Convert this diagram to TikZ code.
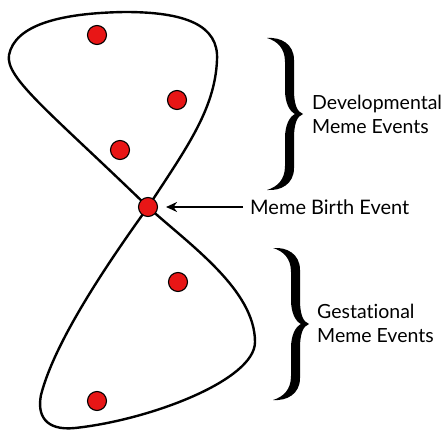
\documentclass[tikz,border=0pt]{standalone}
\usepackage{fontspec}
\setmainfont{Lato}[Ligatures=NoCommon]
\usetikzlibrary{arrows.meta}
\definecolor{dotred}{RGB}{232,22,22}
\begin{document}
\begin{tikzpicture}[x=1pt,y=-1pt,
  lobe/.style={line width=2.4pt},
  dot/.style={circle,draw=black,line width=1.1pt,fill=dotred,minimum size=19pt,inner sep=0pt},
  lbl/.style={font=\fontsize{19.5}{24}\selectfont,align=left,inner sep=0pt,anchor=west},
  arr/.style={line width=1.8pt,-{Stealth[length=11pt,width=10pt]}},
  bracepic/.pic={
    \fill (0,0) .. controls (14,-1) and (27,6) .. (27,22) -- (27,52)
      .. controls (27,66) and (30,74) .. (36,76)
      .. controls (30,78) and (27,86) .. (27,100) -- (27,130)
      .. controls (27,146) and (14,153) .. (0,152)
      .. controls (10,149) and (18,142) .. (18,128) -- (18,100)
      .. controls (18,88) and (22,79) .. (28,76)
      .. controls (22,73) and (18,64) .. (18,52) -- (18,24)
      .. controls (18,10) and (10,3) .. (0,0) -- cycle;
  }
]
\useasboundingbox (0,0) rectangle (443,430);
% upper lobe
\draw[lobe] (148,207) .. controls (185,150) and (215,110) .. (217,60)
  .. controls (219,25) and (185,12) .. (125,12)
  .. controls (60,13) and (15,25) .. (9,55)
  .. controls (5,78) and (50,112) .. (148,207);
% lower lobe
\draw[lobe] (148,207) .. controls (190,245) and (255,290) .. (255,342)
  .. controls (255,380) and (150,420) .. (75,428)
  .. controls (45,431) and (37,415) .. (41,395)
  .. controls (55,340) and (110,260) .. (148,207);
% dots
\node[dot] (d1) at (97,35) {};
\node[dot] (d2) at (177,100) {};
\node[dot] (d3) at (120,150) {};
\node[dot] (birth) at (148,207) {};
\node[dot] (d4) at (178,282) {};
\node[dot] (d5) at (97,401) {};
% braces
\pic at (267,38) {bracepic};
\pic at (273,248) {bracepic};
% labels
\node[lbl] (dev) at (312,114) {Developmental\\Meme Events};
\node[lbl] (ges) at (317,323) {Gestat\kern0pt ional\\Meme Events};
\node[lbl,font=\fontsize{20}{24}\selectfont] (blbl) at (250,207) {Meme Birth Event};
\draw[arr,shorten <=7pt,shorten >=8pt] (blbl.west) -- (blbl.west -| birth.east);
\end{tikzpicture}
\end{document}
